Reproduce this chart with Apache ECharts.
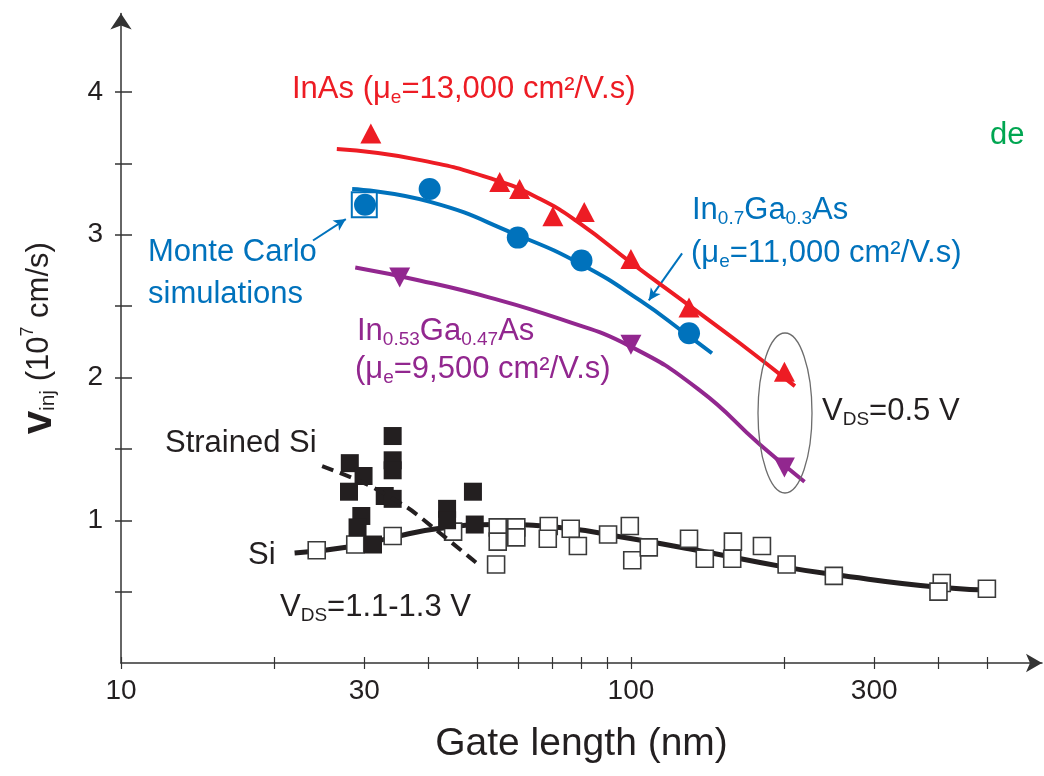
<!DOCTYPE html>
<html>
<head>
<meta charset="utf-8">
<script src="https://cdn.jsdelivr.net/npm/echarts@6/dist/echarts.min.js"></script>
<style>
  html, body { margin: 0; padding: 0; background: #fff; }
  #chart { width: 1044px; height: 776px; }
</style>
</head>
<body>
<div id="chart"></div>
<script>
// gate length (nm) / injection velocity (1e7 cm/s)
var inasLen = [30.9, 55.3, 60.5, 70.3, 81, 100, 130, 200];
var inasVinj = [3.71, 3.37, 3.32, 3.13, 3.16, 2.83, 2.49, 2.04];
var inasFitLen = [26.5, 37.7, 53.6, 66.4, 79.4, 100.5, 130.6, 163.6, 209.7];
var inasFitVinj = [3.60, 3.53, 3.39, 3.25, 3.08, 2.80, 2.50, 2.24, 1.94];

var in07Len = [30.1, 40.3, 60, 80, 130];
var in07Vinj = [3.21, 3.32, 2.98, 2.82, 2.31];
var in07FitLen = [28.4, 40.4, 59.7, 80.2, 104.2, 128.8, 144.2];
var in07FitVinj = [3.32, 3.23, 3.00, 2.79, 2.54, 2.30, 2.17];
var mcLen = [30];
var mcVinj = [3.21];

var in053Len = [35.2, 100, 200];
var in053Vinj = [2.70, 2.23, 1.37];
var in053FitLen = [28.8, 38.5, 52.9, 72.6, 99.5, 136.5, 179, 219];
var in053FitVinj = [2.77, 2.68, 2.56, 2.41, 2.22, 1.91, 1.53, 1.27];

var siLen = [24.2, 28.8, 34.1, 44.8, 54.8, 54.8, 54.4, 59.6, 59.6, 69.0, 68.7, 76.2, 78.7, 90.2, 99.5, 100.6, 108.4, 130, 139.6, 158.5, 158, 180.7, 202, 250, 407, 401, 499];
var siVinj = [0.79, 0.83, 0.89, 0.92, 0.95, 0.85, 0.69, 0.95, 0.88, 0.96, 0.87, 0.94, 0.82, 0.90, 0.96, 0.72, 0.81, 0.87, 0.73, 0.85, 0.73, 0.82, 0.69, 0.61, 0.56, 0.50, 0.52];
var siFitLen = [21.9, 28.8, 34.1, 41.6, 54.6, 72.4, 100.5, 130, 202, 250, 402, 520];
var siFitVinj = [0.77, 0.82, 0.88, 0.94, 0.97, 0.95, 0.87, 0.80, 0.67, 0.62, 0.53, 0.51];

var ssLen = [34.1, 34.1, 34.1, 28.1, 29.9, 28.0, 32.9, 34.1, 29.6, 29.1, 31.2, 43.6, 43.6, 49, 49.4];
var ssVinj = [1.59, 1.42, 1.35, 1.40, 1.31, 1.20, 1.17, 1.15, 1.03, 0.95, 0.83, 1.08, 1.00, 1.20, 0.97];
var ssFitLen = [24.8, 30, 36.4, 40.9, 48.3, 50.6];
var ssFitVinj = [1.38, 1.26, 1.09, 0.95, 0.74, 0.68];

var xTicks = [10, 20, 30, 40, 50, 60, 70, 80, 90, 100, 200, 300, 400, 500];
var xLabels = [10, 30, 100, 300];
var yTicks = [0.5, 1, 1.5, 2, 2.5, 3, 3.5, 4];
var yLabels = [1, 2, 3, 4];

var RED = '#ed1c24', BLUE = '#0072bc', PURPLE = '#92278f', BLACK = '#231f20';
var FONT = '"Liberation Sans", Arial, Helvetica, sans-serif';

function zip(xs, ys) {
    return xs.map(function (x, i) { return [x, ys[i]]; });
}

var rich = {
    t: { fontSize: 31, fontFamily: FONT, lineHeight: 36 },
    s: { fontSize: 19, fontFamily: FONT, lineHeight: 8, verticalAlign: 'bottom' }
};

// annotation text, y is the middle of the capitals
function note(x, y, text, color) {
    return {
        type: 'text', left: x, top: y - 17, z: 100,
        style: { text: text, fill: color, rich: rich, fontFamily: FONT, fontSize: 31 }
    };
}

var myChart = echarts.init(document.getElementById('chart'));

var option = {
    animation: false,
    grid: { left: 121, right: 2, top: 13.5, bottom: 113, containLabel: false, outerBoundsMode: 'none' },
    xAxis: [{
        type: 'log', min: 10, max: 640,
        name: 'Gate length (nm)', nameLocation: 'middle', nameGap: 62,
        nameTextStyle: { fontSize: 39, fontFamily: FONT, color: BLACK },
        axisLine: { symbol: ['none', 'arrow'], symbolSize: [14, 16], lineStyle: { color: '#333', width: 1.5 } },
        axisTick: { inside: true, length: 6, customValues: xTicks, lineStyle: { color: '#333', width: 1.2 } },
        axisLabel: { customValues: xLabels, fontSize: 28, fontFamily: FONT, color: BLACK, margin: 14 },
        splitLine: { show: false }, minorTick: { show: false }
    }, {
        type: 'log', min: 10, max: 640, position: 'bottom',
        axisLine: { show: false },
        axisTick: { inside: false, length: 6, customValues: xTicks, lineStyle: { color: '#333', width: 1.2 } },
        axisLabel: { show: false },
        splitLine: { show: false }
    }],
    yAxis: [{
        type: 'value', min: 0, max: 4.55,
        name: '{v|v}{s|inj}{t| (10}{p|7}{t| cm/s)}', nameLocation: 'middle', nameRotate: 90, nameGap: 62,
        nameTextStyle: {
            color: BLACK,
            rich: {
                v: { fontSize: 42, fontWeight: 'bold', fontFamily: FONT, lineHeight: 40 },
                s: { fontSize: 21, fontFamily: FONT, lineHeight: 8, verticalAlign: 'bottom' },
                t: { fontSize: 31, fontFamily: FONT, lineHeight: 40 },
                p: { fontSize: 18, fontFamily: FONT, lineHeight: 26, verticalAlign: 'top' }
            }
        },
        axisLine: { show: true, symbol: ['none', 'arrow'], symbolSize: [16, 16], lineStyle: { color: '#333', width: 1.5 } },
        axisTick: { inside: true, length: 11, customValues: yTicks, lineStyle: { color: '#333', width: 1.5 } },
        axisLabel: { customValues: yLabels, fontSize: 28, fontFamily: FONT, color: BLACK, margin: 18 },
        splitLine: { show: false }
    }, {
        type: 'value', min: 0, max: 4.55, position: 'left',
        axisLine: { show: false },
        axisTick: { inside: false, length: 6, customValues: yTicks, lineStyle: { color: '#333', width: 1.5 } },
        axisLabel: { show: false },
        splitLine: { show: false }
    }],
    series: [
        {
            name: 'Si fit', type: 'line', smooth: 0.5, symbol: 'none', z: 2,
            data: zip(siFitLen, siFitVinj),
            lineStyle: { color: BLACK, width: 5 }
        },
        {
            name: 'Si', type: 'scatter', symbol: 'rect', symbolSize: 17, z: 3,
            data: zip(siLen, siVinj),
            itemStyle: { color: '#fff', borderColor: '#3a3a3a', borderWidth: 1.6, opacity: 1 }
        },
        {
            name: 'Strained Si', type: 'scatter', symbol: 'rect', symbolSize: 18, z: 4,
            data: zip(ssLen, ssVinj),
            itemStyle: { color: BLACK, opacity: 1 }
        },
        {
            name: 'Strained Si fit', type: 'line', smooth: 0.3, symbol: 'none', z: 5,
            data: zip(ssFitLen, ssFitVinj),
            lineStyle: { color: BLACK, width: 4, type: [12, 7] }
        },
        {
            name: 'In0.53 fit', type: 'line', smooth: 0.5, symbol: 'none', z: 5,
            data: zip(in053FitLen, in053FitVinj),
            lineStyle: { color: PURPLE, width: 4 }
        },
        {
            name: 'In0.53', type: 'scatter', symbol: 'triangle', symbolRotate: 180, symbolSize: [21, 20], z: 6,
            data: zip(in053Len, in053Vinj),
            itemStyle: { color: PURPLE, opacity: 1 }
        },
        {
            name: 'In0.7 fit', type: 'line', smooth: 0.5, symbol: 'none', z: 5,
            data: zip(in07FitLen, in07FitVinj),
            lineStyle: { color: BLUE, width: 4 },
            markLine: {
                silent: true, symbol: ['none', 'arrow'], symbolSize: [9, 12],
                label: { show: false },
                lineStyle: { color: BLUE, width: 2, type: 'solid' },
                data: [
                    [{ coord: [23.8, 2.96] }, { coord: [27.6, 3.11] }],
                    [{ coord: [126, 2.87] }, { coord: [108.4, 2.54] }]
                ]
            }
        },
        {
            name: 'Monte Carlo', type: 'scatter', symbol: 'rect', symbolSize: 25, z: 6,
            data: zip(mcLen, mcVinj),
            itemStyle: { color: '#fff', borderColor: BLUE, borderWidth: 2, opacity: 1 }
        },
        {
            name: 'In0.7', type: 'scatter', symbol: 'circle', symbolSize: 22, z: 7,
            data: zip(in07Len, in07Vinj),
            itemStyle: { color: BLUE, opacity: 1 }
        },
        {
            name: 'InAs fit', type: 'line', smooth: 0.5, symbol: 'none', z: 5,
            data: zip(inasFitLen, inasFitVinj),
            lineStyle: { color: RED, width: 4 }
        },
        {
            name: 'InAs', type: 'scatter', symbol: 'triangle', symbolSize: [21, 20], z: 7,
            data: zip(inasLen, inasVinj),
            itemStyle: { color: RED, opacity: 1 }
        }
    ],
    graphic: [
        note(292, 91, '{t|InAs (μ}{s|e}{t|=13,000 cm²/V.s)}', RED),
        note(148, 254, '{t|Monte Carlo}', BLUE),
        note(148, 296, '{t|simulations}', BLUE),
        note(692, 212, '{t|In}{s|0.7}{t|Ga}{s|0.3}{t|As}', BLUE),
        note(691, 255, '{t|(μ}{s|e}{t|=11,000 cm²/V.s)}', BLUE),
        note(357, 333, '{t|In}{s|0.53}{t|Ga}{s|0.47}{t|As}', PURPLE),
        note(355, 371, '{t|(μ}{s|e}{t|=9,500 cm²/V.s)}', PURPLE),
        note(822, 413, '{t|V}{s|DS}{t|=0.5 V}', BLACK),
        note(165, 445, '{t|Strained Si}', BLACK),
        note(248, 557, '{t|Si}', BLACK),
        note(280, 609, '{t|V}{s|DS}{t|=1.1-1.3 V}', BLACK),
        note(990, 137, '{t|de}', '#00a651'),
        {
            type: 'ellipse', z: 90,
            shape: { cx: 785, cy: 413, rx: 27, ry: 80 },
            style: { fill: 'none', stroke: '#6d6d6d', lineWidth: 1.3 }
        }
    ]
};

myChart.setOption(option);
window.addEventListener('resize', function () {
    if (myChart) {
        myChart.resize();
    }
});
</script>
</body>
</html>
